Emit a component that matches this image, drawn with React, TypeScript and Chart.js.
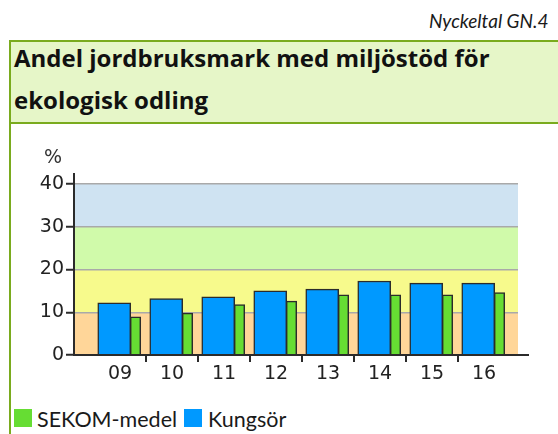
import React, { useEffect, useRef } from "react";
import { Chart, registerables } from "chart.js";

Chart.register(...registerables);

const categories = ["09", "10", "11", "12", "13", "14", "15", "16"];
const kungsor = [12.2, 13.2, 13.6, 15.0, 15.4, 17.3, 16.8, 16.8];
const sekomMedel = [8.9, 9.8, 11.8, 12.6, 14.1, 14.1, 14.1, 14.6];
const yTicks = [0, 10, 20, 30, 40];
const bandLimits = [0, 10, 20, 30, 40];

const BAND_COLORS = ["#ffd699", "#f7fa8c", "#d0faaa", "#cfe3f2"];
const BLUE = "#0099ff";
const GREEN = "#66dd33";
const FRAME = "#7aab1e";
const AXIS = "#2b2b2b";

const XMIN = -0.8846;
const XMAX = 7.654;
const BLUE_SHIFT = -0.1106;
const GREEN_SHIFT = 0.298;

const bandsPlugin = {
  id: "bands",
  beforeDraw(chart: any) {
    const { ctx, chartArea, scales } = chart;
    const y = scales.y;
    ctx.save();
    for (let i = 0; i < bandLimits.length - 1; i++) {
      const top = y.getPixelForValue(bandLimits[i + 1]);
      const bottom = y.getPixelForValue(bandLimits[i]);
      ctx.fillStyle = BAND_COLORS[i];
      ctx.fillRect(chartArea.left, top, chartArea.right - chartArea.left, bottom - top);
    }
    ctx.restore();
  },
  afterDraw(chart: any) {
    const { ctx, chartArea } = chart;
    ctx.save();
    ctx.strokeStyle = AXIS;
    ctx.lineWidth = 2;
    ctx.beginPath();
    ctx.moveTo(chartArea.left, chartArea.top - 11);
    ctx.lineTo(chartArea.left, chartArea.bottom + 1);
    ctx.moveTo(chartArea.left - 1, chartArea.bottom);
    ctx.lineTo(chartArea.right + 11, chartArea.bottom);
    ctx.stroke();
    ctx.fillStyle = "#333";
    ctx.font = "19px 'DejaVu Sans'";
    ctx.textBaseline = "alphabetic";
    ctx.fillText("%", 44, 33);
    ctx.restore();
  },
};

function ChartBox() {
  const ref = useRef<HTMLCanvasElement>(null);
  useEffect(() => {
    if (!ref.current) return;
    const tickFont = { family: "'DejaVu Sans'", size: 19 };
    const chart = new Chart(ref.current, {
      type: "bar",
      data: {
        datasets: [
          {
            label: "Kungsör",
            data: kungsor.map((v, i) => ({ x: i, y: v })),
            xAxisID: "xb",
            grouped: false,
            backgroundColor: BLUE,
            borderColor: AXIS,
            borderWidth: 1.5,
            barThickness: 33,
          },
          {
            label: "SEKOM-medel",
            data: sekomMedel.map((v, i) => ({ x: i, y: v })),
            xAxisID: "xg",
            grouped: false,
            backgroundColor: GREEN,
            borderColor: AXIS,
            borderWidth: 1.5,
            barThickness: 10.5,
          },
        ],
      },
      options: {
        animation: false,
        responsive: false,
        layout: { padding: { top: 54, right: 40, left: 0, bottom: 0 } },
        plugins: { legend: { display: false }, tooltip: { enabled: false }, title: { display: false } },
        scales: {
          x: {
            type: "linear",
            position: "bottom",
            offset: false,
            min: XMIN,
            max: XMAX,
            afterBuildTicks: (s: any) => {
              s.ticks = categories.map((_, i) => ({ value: i }));
            },
            afterFit: (s: any) => {
              s.height = 35;
            },
            border: { display: false },
            grid: {
              offset: true,
              drawOnChartArea: false,
              drawTicks: true,
              tickLength: 7,
              tickWidth: 2,
              lineWidth: 2,
              color: (c: any) => (c.index === undefined || c.index === 0 ? "rgba(0,0,0,0)" : AXIS),
              tickColor: (c: any) => (c.index === undefined || c.index === 0 ? "rgba(0,0,0,0)" : AXIS),
            },
            ticks: {
              autoSkip: false,
              maxRotation: 0,
              padding: 1,
              color: "#222",
              font: tickFont,
              callback: (_v: any, i: number) => categories[i],
            },
          },
          xb: {
            type: "linear",
            display: false,
            offset: false,
            min: XMIN - BLUE_SHIFT,
            max: XMAX - BLUE_SHIFT,
          },
          xg: {
            type: "linear",
            display: false,
            offset: false,
            min: XMIN - GREEN_SHIFT,
            max: XMAX - GREEN_SHIFT,
          },
          y: {
            type: "linear",
            min: 0,
            max: 40,
            afterBuildTicks: (s: any) => {
              s.ticks = yTicks.map((v) => ({ value: v }));
            },
            afterFit: (s: any) => {
              s.width = 74;
            },
            border: { display: false },
            grid: {
              color: "#a9a9a9",
              lineWidth: 1.5,
              tickColor: AXIS,
              tickLength: 8,
              tickWidth: 2,
            },
            ticks: { padding: 2, color: "#222", font: tickFont },
          },
        },
      },
      plugins: [bandsPlugin],
    } as any);
    return () => chart.destroy();
  }, []);
  return (
    <canvas
      ref={ref}
      width={558}
      height={260}
      style={{ position: "absolute", left: 0, top: 130, width: 558, height: 260 }}
    />
  );
}

export default function App() {
  return (
    <div
      style={{
        position: "absolute",
        left: 0,
        top: 0,
        width: 558,
        height: 434,
        overflow: "hidden",
        background: "#fff",
        fontFamily: "Lato, sans-serif",
        color: "#1a1a1a",
      }}
    >
      <div
        style={{
          position: "absolute",
          right: 9.5,
          top: 10.8,
          fontSize: 19,
          lineHeight: "19px",
          fontStyle: "italic",
          whiteSpace: "nowrap",
        }}
      >
        Nyckeltal GN.4
      </div>
      <div
        style={{
          position: "absolute",
          left: 9,
          top: 40,
          width: 570,
          height: 420,
          borderLeft: `2px solid ${FRAME}`,
          borderTop: `2px solid ${FRAME}`,
        }}
      />
      <div
        style={{
          position: "absolute",
          left: 11,
          top: 42,
          width: 560,
          height: 80,
          background: "#e6f6c8",
          borderBottom: `2px solid ${FRAME}`,
        }}
      />
      <div
        style={{
          position: "absolute",
          left: 14,
          top: 37,
          width: 530,
          fontFamily: "'Open Sans', sans-serif",
          fontSize: 24,
          fontWeight: 700,
          lineHeight: "41.6px",
          color: "#111",
        }}
      >
        Andel jordbruksmark med miljöstöd för ekologisk odling
      </div>
      <ChartBox />
      <div
        style={{
          position: "absolute",
          left: 14,
          top: 408.7,
          display: "flex",
          alignItems: "flex-start",
          fontSize: 21.5,
          lineHeight: "21px",
          whiteSpace: "nowrap",
        }}
      >
        <span style={{ width: 18, height: 18, marginTop: 0.3, background: GREEN, display: "inline-block" }} />
        <span style={{ marginLeft: 5 }}>SEKOM-medel</span>
        <span style={{ width: 18, height: 18, marginTop: 0.3, marginLeft: 7, background: BLUE, display: "inline-block" }} />
        <span style={{ marginLeft: 6 }}>Kungsör</span>
      </div>
    </div>
  );
}
